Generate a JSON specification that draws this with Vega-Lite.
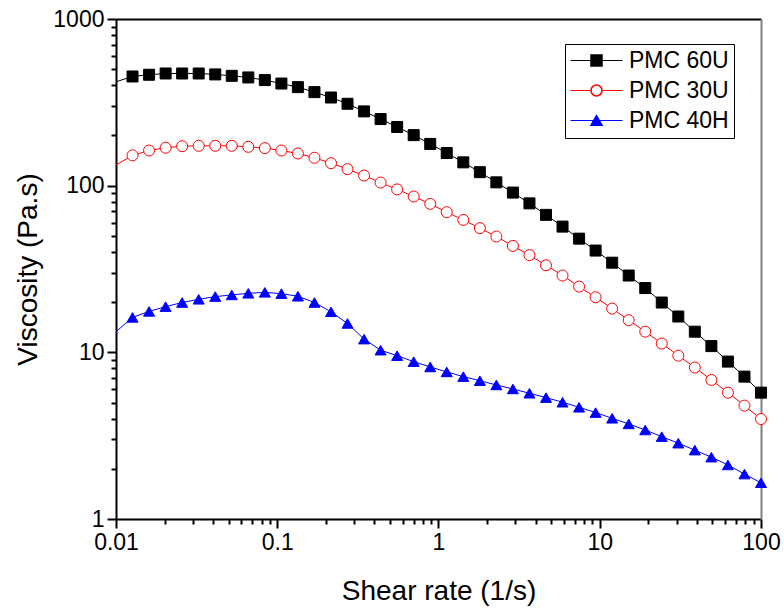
{
  "$schema": "https://vega.github.io/schema/vega-lite/v6.json",
  "width": 645,
  "height": 500,
  "autosize": {"type": "none"},
  "padding": {"left": 116, "top": 19, "right": 23, "bottom": 93},
  "background": "white",
  "config": {
    "view": {"stroke": null},
    "font": "Liberation Sans",
    "axis": {"grid": false, "labelFont": "Liberation Sans", "titleFont": "Liberation Sans", "labelColor": "black", "titleColor": "black", "domainColor": "black", "tickColor": "black", "titleFontWeight": "normal"}
  },
  "data": {"values": [
    {"s": "PMC 60U", "x": 0.01, "y": 420},
    {"s": "PMC 60U", "x": 0.01266, "y": 452},
    {"s": "PMC 60U", "x": 0.01604, "y": 463},
    {"s": "PMC 60U", "x": 0.02031, "y": 471},
    {"s": "PMC 60U", "x": 0.02572, "y": 471},
    {"s": "PMC 60U", "x": 0.03257, "y": 471},
    {"s": "PMC 60U", "x": 0.04125, "y": 465},
    {"s": "PMC 60U", "x": 0.05223, "y": 456},
    {"s": "PMC 60U", "x": 0.06615, "y": 446},
    {"s": "PMC 60U", "x": 0.08377, "y": 430},
    {"s": "PMC 60U", "x": 0.1061, "y": 410},
    {"s": "PMC 60U", "x": 0.1343, "y": 390},
    {"s": "PMC 60U", "x": 0.1701, "y": 364},
    {"s": "PMC 60U", "x": 0.2154, "y": 338},
    {"s": "PMC 60U", "x": 0.2728, "y": 310},
    {"s": "PMC 60U", "x": 0.3455, "y": 279},
    {"s": "PMC 60U", "x": 0.4375, "y": 251},
    {"s": "PMC 60U", "x": 0.5541, "y": 225},
    {"s": "PMC 60U", "x": 0.7017, "y": 201},
    {"s": "PMC 60U", "x": 0.8886, "y": 178},
    {"s": "PMC 60U", "x": 1.125, "y": 157},
    {"s": "PMC 60U", "x": 1.425, "y": 138},
    {"s": "PMC 60U", "x": 1.805, "y": 120.5},
    {"s": "PMC 60U", "x": 2.285, "y": 104.7},
    {"s": "PMC 60U", "x": 2.894, "y": 90.9},
    {"s": "PMC 60U", "x": 3.665, "y": 78.3},
    {"s": "PMC 60U", "x": 4.642, "y": 66.8},
    {"s": "PMC 60U", "x": 5.878, "y": 56.8},
    {"s": "PMC 60U", "x": 7.444, "y": 48.1},
    {"s": "PMC 60U", "x": 9.427, "y": 40.8},
    {"s": "PMC 60U", "x": 11.94, "y": 34.5},
    {"s": "PMC 60U", "x": 15.12, "y": 28.9},
    {"s": "PMC 60U", "x": 19.15, "y": 24.3},
    {"s": "PMC 60U", "x": 24.24, "y": 19.9},
    {"s": "PMC 60U", "x": 30.7, "y": 16.4},
    {"s": "PMC 60U", "x": 38.88, "y": 13.3},
    {"s": "PMC 60U", "x": 49.24, "y": 10.9},
    {"s": "PMC 60U", "x": 62.36, "y": 8.8},
    {"s": "PMC 60U", "x": 78.97, "y": 7.15},
    {"s": "PMC 60U", "x": 100, "y": 5.73},
    {"s": "PMC 30U", "x": 0.01, "y": 133},
    {"s": "PMC 30U", "x": 0.01266, "y": 152},
    {"s": "PMC 30U", "x": 0.01604, "y": 162.5},
    {"s": "PMC 30U", "x": 0.02031, "y": 169},
    {"s": "PMC 30U", "x": 0.02572, "y": 172.5},
    {"s": "PMC 30U", "x": 0.03257, "y": 173.5},
    {"s": "PMC 30U", "x": 0.04125, "y": 173.5},
    {"s": "PMC 30U", "x": 0.05223, "y": 173.5},
    {"s": "PMC 30U", "x": 0.06615, "y": 171},
    {"s": "PMC 30U", "x": 0.08377, "y": 168},
    {"s": "PMC 30U", "x": 0.1061, "y": 162.5},
    {"s": "PMC 30U", "x": 0.1343, "y": 156},
    {"s": "PMC 30U", "x": 0.1701, "y": 147},
    {"s": "PMC 30U", "x": 0.2154, "y": 136.5},
    {"s": "PMC 30U", "x": 0.2728, "y": 125.6},
    {"s": "PMC 30U", "x": 0.3455, "y": 115},
    {"s": "PMC 30U", "x": 0.4375, "y": 104.4},
    {"s": "PMC 30U", "x": 0.5541, "y": 95},
    {"s": "PMC 30U", "x": 0.7017, "y": 86.1},
    {"s": "PMC 30U", "x": 0.8886, "y": 77.8},
    {"s": "PMC 30U", "x": 1.125, "y": 69.3},
    {"s": "PMC 30U", "x": 1.425, "y": 62.3},
    {"s": "PMC 30U", "x": 1.805, "y": 55.6},
    {"s": "PMC 30U", "x": 2.285, "y": 49.5},
    {"s": "PMC 30U", "x": 2.894, "y": 43.5},
    {"s": "PMC 30U", "x": 3.665, "y": 38.3},
    {"s": "PMC 30U", "x": 4.642, "y": 33.3},
    {"s": "PMC 30U", "x": 5.878, "y": 28.9},
    {"s": "PMC 30U", "x": 7.444, "y": 24.8},
    {"s": "PMC 30U", "x": 9.427, "y": 21.4},
    {"s": "PMC 30U", "x": 11.94, "y": 18.3},
    {"s": "PMC 30U", "x": 15.12, "y": 15.6},
    {"s": "PMC 30U", "x": 19.15, "y": 13.3},
    {"s": "PMC 30U", "x": 24.24, "y": 11.3},
    {"s": "PMC 30U", "x": 30.7, "y": 9.55},
    {"s": "PMC 30U", "x": 38.88, "y": 8.11},
    {"s": "PMC 30U", "x": 49.24, "y": 6.83},
    {"s": "PMC 30U", "x": 62.36, "y": 5.73},
    {"s": "PMC 30U", "x": 78.97, "y": 4.79},
    {"s": "PMC 30U", "x": 100, "y": 3.98},
    {"s": "PMC 40H", "x": 0.01, "y": 13.3},
    {"s": "PMC 40H", "x": 0.01266, "y": 16.2},
    {"s": "PMC 40H", "x": 0.01604, "y": 17.6},
    {"s": "PMC 40H", "x": 0.02031, "y": 18.8},
    {"s": "PMC 40H", "x": 0.02572, "y": 19.9},
    {"s": "PMC 40H", "x": 0.03257, "y": 20.8},
    {"s": "PMC 40H", "x": 0.04125, "y": 21.6},
    {"s": "PMC 40H", "x": 0.05223, "y": 22.1},
    {"s": "PMC 40H", "x": 0.06615, "y": 22.6},
    {"s": "PMC 40H", "x": 0.08377, "y": 22.9},
    {"s": "PMC 40H", "x": 0.1061, "y": 22.5},
    {"s": "PMC 40H", "x": 0.1343, "y": 21.7},
    {"s": "PMC 40H", "x": 0.1701, "y": 19.9},
    {"s": "PMC 40H", "x": 0.2154, "y": 17.5},
    {"s": "PMC 40H", "x": 0.2728, "y": 14.9},
    {"s": "PMC 40H", "x": 0.3455, "y": 12.0},
    {"s": "PMC 40H", "x": 0.4375, "y": 10.3},
    {"s": "PMC 40H", "x": 0.5541, "y": 9.55},
    {"s": "PMC 40H", "x": 0.7017, "y": 8.79},
    {"s": "PMC 40H", "x": 0.8886, "y": 8.17},
    {"s": "PMC 40H", "x": 1.125, "y": 7.63},
    {"s": "PMC 40H", "x": 1.425, "y": 7.15},
    {"s": "PMC 40H", "x": 1.805, "y": 6.76},
    {"s": "PMC 40H", "x": 2.285, "y": 6.37},
    {"s": "PMC 40H", "x": 2.894, "y": 6.03},
    {"s": "PMC 40H", "x": 3.665, "y": 5.68},
    {"s": "PMC 40H", "x": 4.642, "y": 5.35},
    {"s": "PMC 40H", "x": 5.878, "y": 5.02},
    {"s": "PMC 40H", "x": 7.444, "y": 4.68},
    {"s": "PMC 40H", "x": 9.427, "y": 4.35},
    {"s": "PMC 40H", "x": 11.94, "y": 4.02},
    {"s": "PMC 40H", "x": 15.12, "y": 3.72},
    {"s": "PMC 40H", "x": 19.15, "y": 3.42},
    {"s": "PMC 40H", "x": 24.24, "y": 3.12},
    {"s": "PMC 40H", "x": 30.7, "y": 2.85},
    {"s": "PMC 40H", "x": 38.88, "y": 2.59},
    {"s": "PMC 40H", "x": 49.24, "y": 2.35},
    {"s": "PMC 40H", "x": 62.36, "y": 2.11},
    {"s": "PMC 40H", "x": 78.97, "y": 1.86},
    {"s": "PMC 40H", "x": 100, "y": 1.65}
  ]},
  "layer": [
    {
      "mark": {"type": "line", "strokeWidth": 1, "clip": true},
      "encoding": {
        "x": {"field": "x", "type": "quantitative",
          "scale": {"type": "log", "domain": [0.01, 100], "nice": false},
          "axis": {
            "orient": "bottom",
            "title": "Shear rate (1/s)", "titleFontSize": 28, "titlePadding": 23,
            "values": [0.01,0.02,0.03,0.04,0.05,0.06,0.07,0.08,0.09,0.1,0.2,0.3,0.4,0.5,0.6,0.7,0.8,0.9,1,2,3,4,5,6,7,8,9,10,20,30,40,50,60,70,80,90,100],
            "format": "~g",
            "labelExpr": "abs(log(datum.value)/LN10 - round(log(datum.value)/LN10)) < 0.001 ? datum.label : ''",
            "tickSize": {"condition": {"test": "abs(log(datum.value)/LN10 - round(log(datum.value)/LN10)) < 0.001", "value": 9}, "value": 5},
            "tickWidth": 2, "domainWidth": 2, "labelFontSize": 23, "labelPadding": 3,
            "labelOverlap": false, "labelFlush": false, "labelBound": false
          }
        },
        "y": {"field": "y", "type": "quantitative",
          "scale": {"type": "log", "domain": [1, 1000], "nice": false},
          "axis": {
            "orient": "left",
            "title": "Viscosity (Pa.s)", "titleFontSize": 28, "titlePadding": 10,
            "values": [1,2,3,4,5,6,7,8,9,10,20,30,40,50,60,70,80,90,100,200,300,400,500,600,700,800,900,1000],
            "format": "~g",
            "labelExpr": "abs(log(datum.value)/LN10 - round(log(datum.value)/LN10)) < 0.001 ? datum.label : ''",
            "tickSize": {"condition": {"test": "abs(log(datum.value)/LN10 - round(log(datum.value)/LN10)) < 0.001", "value": 9}, "value": 5},
            "tickWidth": 2, "domainWidth": 2, "labelFontSize": 23, "labelPadding": 3,
            "labelOverlap": false, "labelFlush": false, "labelBound": false
          }
        },
        "color": {"field": "s", "type": "nominal", "sort": ["PMC 60U", "PMC 30U", "PMC 40H"],
          "scale": {"range": ["#000000", "#ff0000", "#0000ff"]},
          "legend": {
            "orient": "none", "legendX": 449, "legendY": 25, "title": null,
            "symbolType": "M-10,0H10", "symbolSize": 27, "symbolStrokeWidth": 1, "symbolOffset": 15,
            "labelFont": "Liberation Sans", "labelFontSize": 23, "labelColor": "black", "labelOffset": 21, "labelLimit": 300,
            "strokeColor": "black", "fillColor": "white", "padding": 5, "rowPadding": 6
          }
        }
      }
    },
    {
      "transform": [{"filter": "datum.x > 0.011"}],
      "mark": {"type": "point", "filled": true, "opacity": 1, "strokeWidth": 1, "clip": false},
      "encoding": {
        "x": {"field": "x", "type": "quantitative",
          "axis": {"orient": "top", "title": null, "labels": false, "ticks": false, "domainWidth": 2, "domainColor": "black", "values": []}},
        "y": {"field": "y", "type": "quantitative",
          "axis": {"orient": "right", "title": null, "labels": false, "ticks": false, "domainWidth": 2, "domainColor": "#808080", "values": []}},
        "shape": {"field": "s", "type": "nominal",
          "scale": {"domain": ["PMC 60U", "PMC 30U", "PMC 40H"], "range": ["square", "circle", "triangle-up"]},
          "legend": {
            "orient": "none", "legendX": 449, "legendY": 25, "title": null,
            "symbolOffset": 15,
            "labelFont": "Liberation Sans", "labelFontSize": 23, "labelOpacity": 0, "labelExpr": "''", "labelOffset": 6, "labelLimit": 300,
            "padding": 5, "rowPadding": 6, "symbolOpacity": 1
          }
        },
        "fill": {"field": "s", "type": "nominal",
          "scale": {"domain": ["PMC 60U", "PMC 30U", "PMC 40H"], "range": ["#000000", "#ffffff", "#0000ff"]}},
        "stroke": {"field": "s", "type": "nominal",
          "scale": {"domain": ["PMC 60U", "PMC 30U", "PMC 40H"], "range": ["#000000", "#ff0000", "#0000ff"]}},
        "size": {"field": "s", "type": "nominal",
          "scale": {"domain": ["PMC 60U", "PMC 30U", "PMC 40H"], "range": [121, 121, 196]}}
      }
    }
  ],
  "resolve": {"axis": {"x": "independent", "y": "independent"}}
}
